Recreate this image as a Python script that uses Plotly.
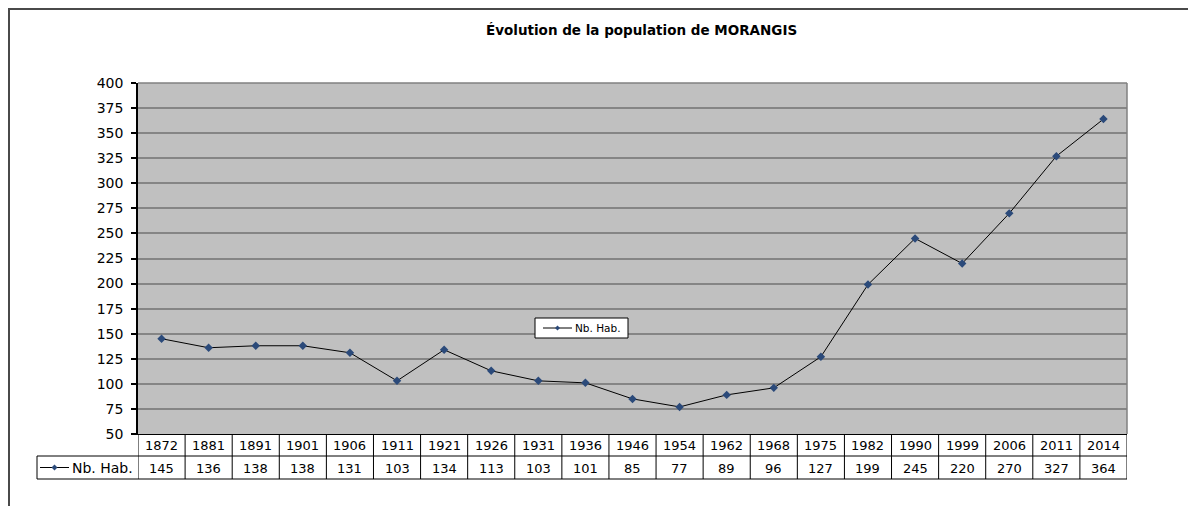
import plotly.graph_objects as go

title = "Évolution de la population de MORANGIS"
series_name = "Nb. Hab."
years = ["1872", "1881", "1891", "1901", "1906", "1911", "1921", "1926", "1931", "1936",
         "1946", "1954", "1962", "1968", "1975", "1982", "1990", "1999", "2006", "2011", "2014"]
population = [145, 136, 138, 138, 131, 103, 134, 113, 103, 101,
              85, 77, 89, 96, 127, 199, 245, 220, 270, 327, 364]
y_ticks = list(range(50, 401, 25))

# page body has an 8px margin: figure is placed at (8, 8) on the screen
OFF = 8
W, H = 1196 - OFF, 506 - OFF
# plot area in screen pixels
L, R, T, B = 138, 1127, 83, 434
PW, PH = R - L, B - T


def px(x):
    return (x - L) / PW


def py(y):
    return (B - y) / PH


FONT = "DejaVu Sans, Liberation Sans, Arial, sans-serif"
MK = "#2b4a7a"
n = len(years)

fig = go.Figure()
fig.add_trace(go.Scatter(
    x=list(range(n)), y=population, mode="lines+markers", name=series_name,
    line=dict(color="black", width=1),
    marker=dict(symbol="diamond", size=6.5, color=MK, line=dict(width=0)),
    showlegend=False,
))

shapes = []
# outer frame (left and top)
fc = "#4a4a4a"
shapes.append(dict(type="line", xref="paper", yref="paper", x0=px(9), x1=px(9), y0=py(9), y1=py(520), line=dict(color=fc, width=2)))
shapes.append(dict(type="line", xref="paper", yref="paper", x0=px(8), x1=px(1220), y0=py(9), y1=py(9), line=dict(color=fc, width=2)))
# plot area top/right borders (gray)
shapes.append(dict(type="line", xref="paper", yref="paper", x0=0, x1=1, y0=1, y1=1, line=dict(color="#808080", width=1.5)))
shapes.append(dict(type="line", xref="paper", yref="paper", x0=1, x1=1, y0=0, y1=1, line=dict(color="#808080", width=1.5)))

# data table
r1, r2 = py(456), py(479)
for yy in (r1, r2):
    shapes.append(dict(type="line", xref="paper", yref="paper", x0=px(37), x1=1, y0=yy, y1=yy, line=dict(color="black", width=1)))
shapes.append(dict(type="line", xref="paper", yref="paper", x0=px(37), x1=px(37), y0=r1, y1=r2, line=dict(color="black", width=1)))
for i in range(n + 1):
    shapes.append(dict(type="line", xref="x", yref="paper", x0=i - 0.5, x1=i - 0.5, y0=0, y1=r2, line=dict(color="black", width=1)))


def key(x0, x1, ycen, d):
    xm = (x0 + x1) / 2
    out = [dict(type="line", xref="paper", yref="paper", x0=px(x0), x1=px(x1), y0=py(ycen), y1=py(ycen),
                line=dict(color="black", width=1))]
    out.append(dict(type="path", xref="paper", yref="paper",
                    path=f"M {px(xm-d)} {py(ycen)} L {px(xm)} {py(ycen-d)} L {px(xm+d)} {py(ycen)} L {px(xm)} {py(ycen+d)} Z",
                    fillcolor=MK, line=dict(width=0)))
    return out


# legend key in table
shapes += key(40, 69, 467.5, 3)

# floating legend box
shapes.append(dict(type="rect", xref="paper", yref="paper", x0=px(535), x1=px(628), y0=py(318), y1=py(338),
                   fillcolor="white", line=dict(color="black", width=1), layer="above"))
shapes += [dict(s, layer="above") for s in key(543, 572, 328, 2.5)]

annotations = []
for i, (yr, v) in enumerate(zip(years, population)):
    annotations.append(dict(x=i, y=py(445), xref="x", yref="paper", text=yr, showarrow=False,
                            font=dict(family=FONT, size=13, color="black"), yanchor="middle"))
    annotations.append(dict(x=i, y=py(468), xref="x", yref="paper", text=str(v), showarrow=False,
                            font=dict(family=FONT, size=13, color="black"), yanchor="middle"))
annotations.append(dict(x=px(70), y=py(468), xref="paper", yref="paper", text=series_name, showarrow=False,
                        xanchor="left", yanchor="middle", font=dict(family=FONT, size=14, color="black")))
annotations.append(dict(x=px(573), y=py(328), xref="paper", yref="paper", text=series_name, showarrow=False,
                        xanchor="left", yanchor="middle", font=dict(family=FONT, size=10.5, color="black")))
annotations.append(dict(x=px(641), y=py(30), xref="paper", yref="paper", text=f"<b>{title}</b>", showarrow=False,
                        xanchor="center", yanchor="middle", font=dict(family=FONT, size=13.5, color="black")))

fig.update_layout(
    width=W, height=H,
    margin=dict(l=L - OFF, r=W - (R - OFF), t=T - OFF, b=H - (B - OFF), pad=0),
    paper_bgcolor="white", plot_bgcolor="#c0c0c0",
    font=dict(family=FONT, size=13, color="black"),
    shapes=shapes, annotations=annotations,
    showlegend=False,
    xaxis=dict(range=[-0.5, n - 0.5], showticklabels=False, showgrid=False, zeroline=False,
               showline=True, linecolor="black", linewidth=1, ticks=""),
    yaxis=dict(range=[50, 400], tickvals=y_ticks, showgrid=True, gridcolor="#858585", gridwidth=1.5,
               zeroline=False, showline=True, linecolor="black", linewidth=1.5,
               ticks="outside", ticklen=5, tickcolor="black", tickwidth=1.5,
               ticklabelstandoff=5,
               tickfont=dict(family=FONT, size=14, color="black")),
)

fig.write_html("out.html")
